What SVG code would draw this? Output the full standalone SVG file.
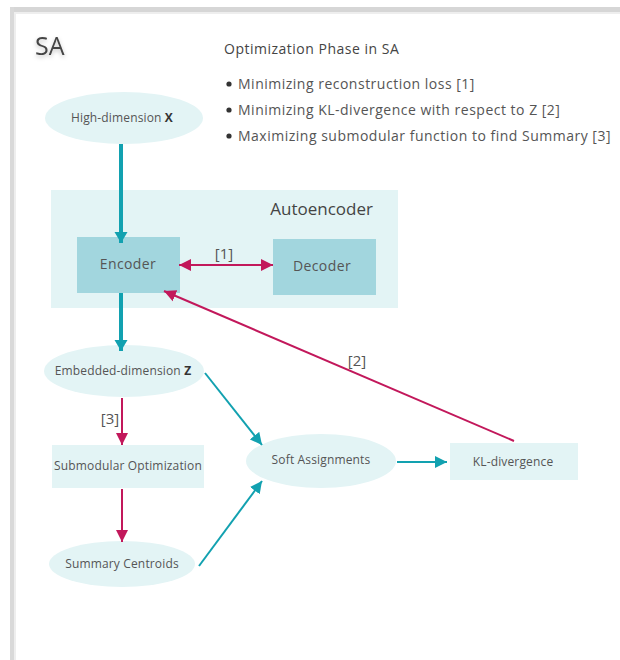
<svg xmlns="http://www.w3.org/2000/svg" width="620" height="660" viewBox="0 0 620 660">
<defs>
<style>
text{font-family:"Open Sans","Liberation Sans",sans-serif;fill:#555}
.n{fill:#e3f4f5}
.d{fill:#a2d6de}
.t{stroke:#12a1b0;fill:none}
.r{stroke:#c2185b;fill:none;stroke-width:2}
.lbl{font-size:12px;letter-spacing:0.15px;text-anchor:middle}
.bul{font-size:14px;letter-spacing:0.5px}
.br{font-size:15px}
</style>
<marker id="ht" markerUnits="userSpaceOnUse" markerWidth="14" markerHeight="14" refX="12" refY="7" orient="auto"><path d="M0,1 L12,7 L0,13 Z" fill="#12a1b0"/></marker>
<marker id="htb" markerUnits="userSpaceOnUse" markerWidth="14" markerHeight="14" refX="11" refY="7" orient="auto"><path d="M0,0.5 L11,7 L0,13.5 Z" fill="#12a1b0"/></marker>
<marker id="hr" markerUnits="userSpaceOnUse" markerWidth="14" markerHeight="14" refX="12" refY="7" orient="auto"><path d="M0,1 L12,7 L0,13 Z" fill="#c2185b"/></marker>
<marker id="hrs" markerUnits="userSpaceOnUse" markerWidth="14" markerHeight="14" refX="0" refY="7" orient="auto"><path d="M12,1 L0,7 L12,13 Z" fill="#c2185b"/></marker>
<filter id="sh" x="-30%" y="-30%" width="160%" height="180%"><feDropShadow dx="0" dy="2" stdDeviation="2" flood-color="#000" flood-opacity="0.25"/></filter>
</defs>
<rect width="620" height="660" fill="#fff"/>
<g id="frame">
<rect x="10" y="7" width="610" height="5" fill="#d6d6d6"/>
<rect x="10" y="7" width="4" height="653" fill="#d9d9d9"/>
<rect x="14" y="12" width="606" height="2" fill="#eeeeee"/>
<rect x="14" y="12" width="2" height="648" fill="#eeeeee"/>
</g>
<text x="35" y="55" font-size="25" filter="url(#sh)" style="fill:#444">SA</text>
<g id="legend">
<text x="224" y="54" font-size="14" letter-spacing="0.5" style="fill:#444">Optimization Phase in SA</text>
<circle cx="229" cy="84" r="2.6" fill="#333"/>
<text class="bul" x="238" y="89">Minimizing reconstruction loss [1]</text>
<circle cx="229" cy="110" r="2.6" fill="#333"/>
<text class="bul" x="238" y="115">Minimizing KL-divergence with respect to Z [2]</text>
<circle cx="229" cy="136" r="2.6" fill="#333"/>
<text class="bul" x="238" y="141">Maximizing submodular function to find Summary [3]</text>
</g>
<g id="autoencoder">
<rect x="51" y="190" width="347" height="118" class="n"/>
<text x="373" y="215" font-size="17" text-anchor="end" style="fill:#444">Autoencoder</text>
</g>
<g id="highdim">
<ellipse cx="124" cy="118" rx="79" ry="26" class="n"/>
<text class="lbl" x="122" y="122">High-dimension <tspan font-weight="bold" style="fill:#333">X</tspan></text>
</g>
<g id="encoder">
<rect x="77" y="237" width="103" height="56" class="d"/>
<text x="128" y="269" font-size="14" letter-spacing="0.4" text-anchor="middle">Encoder</text>
</g>
<g id="decoder">
<rect x="273" y="239" width="103" height="56" class="d"/>
<text x="322" y="271" font-size="14" letter-spacing="0.4" text-anchor="middle">Decoder</text>
</g>
<g id="embedded">
<ellipse cx="124" cy="371" rx="80" ry="26" class="n"/>
<text class="lbl" x="123" y="375">Embedded-dimension <tspan font-weight="bold" style="fill:#333">Z</tspan></text>
</g>
<g id="submodular">
<rect x="52" y="445" width="152" height="43" class="n"/>
<text class="lbl" x="128" y="470">Submodular Optimization</text>
</g>
<g id="centroids">
<ellipse cx="122" cy="564" rx="73" ry="23" class="n"/>
<text class="lbl" x="122" y="568">Summary Centroids</text>
</g>
<g id="soft">
<ellipse cx="321" cy="461" rx="75" ry="27" class="n"/>
<text class="lbl" x="321" y="464">Soft Assignments</text>
</g>
<g id="kl">
<rect x="450" y="443" width="128" height="37" class="n"/>
<text class="lbl" x="513" y="466">KL-divergence</text>
</g>
<g id="connectors">
<line x1="121" y1="144" x2="121" y2="243" class="t" stroke-width="4" marker-end="url(#htb)"/>
<line x1="121" y1="293" x2="121" y2="351" class="t" stroke-width="4" marker-end="url(#htb)"/>
<line x1="179" y1="265" x2="273" y2="265" class="r" marker-start="url(#hrs)" marker-end="url(#hr)"/>
<text class="br" x="224" y="259" text-anchor="middle">[1]</text>
<line x1="122" y1="398" x2="122" y2="445" class="r" marker-end="url(#hr)"/>
<text class="br" x="110" y="424" text-anchor="middle">[3]</text>
<line x1="122" y1="489" x2="122" y2="542" class="r" marker-end="url(#hr)"/>
<line x1="205" y1="373" x2="262" y2="445" class="t" stroke-width="2" marker-end="url(#ht)"/>
<line x1="199" y1="566" x2="262" y2="481" class="t" stroke-width="2" marker-end="url(#ht)"/>
<line x1="397" y1="462" x2="447" y2="462" class="t" stroke-width="2" marker-end="url(#ht)"/>
<line x1="514" y1="441" x2="164" y2="291" class="r" marker-end="url(#hr)"/>
<text class="br" x="357" y="366" text-anchor="middle">[2]</text>
</g>
</svg>
